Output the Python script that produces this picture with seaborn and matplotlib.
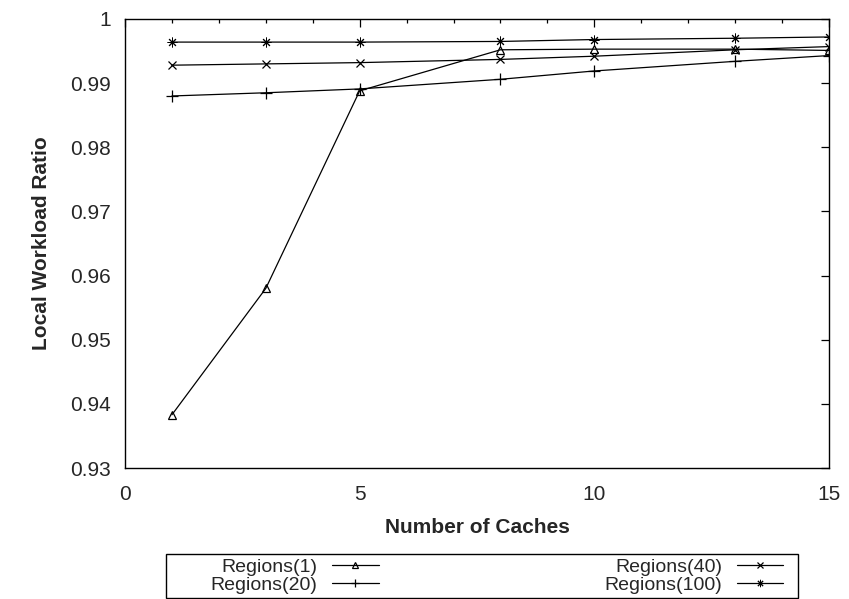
import matplotlib
matplotlib.use("Agg")
import matplotlib.pyplot as plt
import seaborn as sns
import pandas as pd
from matplotlib.lines import Line2D
from matplotlib.patches import Rectangle
from matplotlib.ticker import MultipleLocator

# ---- data ----
caches = [1, 3, 5, 8, 10, 13, 15]
regions_1 = [0.9383, 0.9580, 0.9888, 0.9952, 0.9953, 0.9953, 0.9951]
regions_20 = [0.9880, 0.9885, 0.9891, 0.9906, 0.9919, 0.9934, 0.9943]
regions_40 = [0.9928, 0.9930, 0.9932, 0.9937, 0.9942, 0.9952, 0.9957]
regions_100 = [0.9964, 0.9964, 0.9964, 0.9965, 0.9968, 0.9970, 0.9972]
series_names = ["Regions(1)", "Regions(20)", "Regions(40)", "Regions(100)"]
yticks = [0.93, 0.94, 0.95, 0.96, 0.97, 0.98, 0.99, 1.0]
ytick_labels = ["0.93", "0.94", "0.95", "0.96", "0.97", "0.98", "0.99", "1"]
xticks = [0, 5, 10, 15]

sns.set_style("white")
plt.rcParams["font.family"] = ["Liberation Sans", "DejaVu Sans"]
plt.rcParams["font.size"] = 15

df = pd.DataFrame({
    "caches": caches * 4,
    "ratio": regions_1 + regions_20 + regions_40 + regions_100,
    "series": [n for n in series_names for _ in caches],
})

styles = {
    "Regions(1)": dict(marker="^", markersize=6, mfc="none", mec="black", mew=0.9),
    "Regions(20)": dict(marker="+", markersize=8, mec="black", mew=0.9),
    "Regions(40)": dict(marker="x", markersize=6, mec="black", mew=0.9),
    "Regions(100)": dict(marker=(8, 2, 0), markersize=7, mec="black", mew=0.7),
}

fig = plt.figure(figsize=(8.49, 5.99), dpi=100)
ax = fig.add_axes([125 / 849, 1 - 468 / 599, (829 - 125) / 849, (468 - 19) / 599])

for name in series_names:
    sub = df[df["series"] == name]
    sns.lineplot(data=sub, x="caches", y="ratio", ax=ax, color="black",
                 linewidth=0.9, legend=False, **styles[name])

ax.set_xlim(0, 15)
ax.set_ylim(0.93, 1.0)
ax.set_xticks(xticks)
ax.set_xticklabels([str(v) for v in xticks])
ax.xaxis.set_minor_locator(MultipleLocator(1))
ax.set_yticks(yticks)
ax.set_yticklabels(ytick_labels)
ax.tick_params(which="both", direction="in", top=True, right=True,
               labelsize=15, color="black", pad=10)
ax.tick_params(which="major", length=6, width=0.9)
ax.tick_params(which="minor", length=3, width=0.9)
ax.tick_params(axis="x", which="major", pad=12)
for s in ax.spines.values():
    s.set_linewidth(1.0)
    s.set_color("black")

ax.set_xlabel("Number of Caches", fontweight="bold", fontsize=15, labelpad=10)
ax.set_ylabel("Local Workload Ratio", fontweight="bold", fontsize=15, labelpad=14)

# legend
handles = [Line2D([0], [0], color="black", linewidth=0.9, **styles[n]) for n in series_names]
for h in handles:
    h.set_markersize(h.get_markersize() * 0.75)
leg = fig.legend(handles, series_names, ncol=2, markerfirst=False, frameon=False,
                 loc="center", bbox_to_anchor=((207 + 787) / 2 / 849, 1 - 576 / 599),
                 fontsize=14, handlelength=2.4, handletextpad=0.75,
                 columnspacing=11.6, labelspacing=0.0, borderpad=0, borderaxespad=0)
fig.add_artist(Rectangle((166 / 849, 1 - 598 / 599), (798 - 166) / 849, (598 - 554) / 599,
                         transform=fig.transFigure, fill=False, edgecolor="black",
                         linewidth=1.0))

fig.savefig("out.png", dpi=100)
